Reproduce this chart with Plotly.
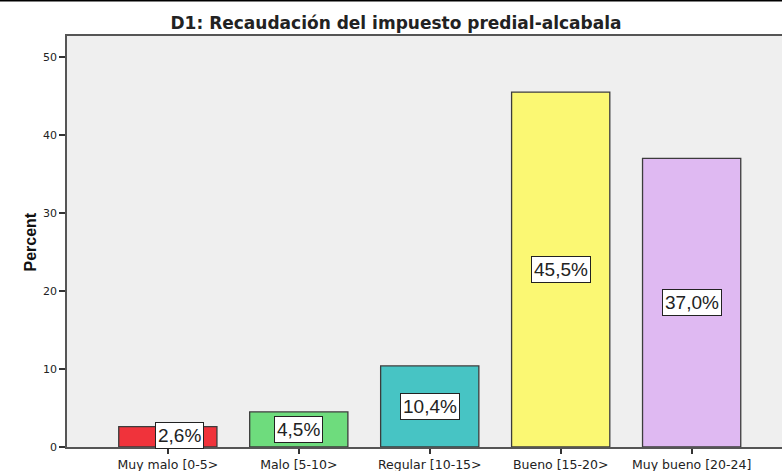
import plotly.graph_objects as go

categories = ["Muy malo [0-5>", "Malo [5-10>", "Regular [10-15>", "Bueno [15-20>", "Muy bueno [20-24]"]
percents = [2.6, 4.5, 10.4, 45.5, 37.0]
labels = ["2,6%", "4,5%", "10,4%", "45,5%", "37,0%"]
colors = ["#f0333b", "#6edc7d", "#47c4c4", "#fbf873", "#dfb9f2"]
y_ticks = [0, 10, 20, 30, 40, 50]

FONT = "DejaVu Sans, Verdana, sans-serif"

fig = go.Figure()
fig.add_trace(go.Bar(
    x=list(range(len(categories))), y=percents,
    marker=dict(color=colors, line=dict(color="#3c3c3c", width=1.3)),
    width=0.75, showlegend=False, hoverinfo="skip",
))
for i, (v, lab) in enumerate(zip(percents, labels)):
    fig.add_annotation(x=i, y=v / 2, text=lab, showarrow=False,
                       xshift=12 if i == 0 else 0, yshift=1 if i == 0 else 0,
                       font=dict(family="Liberation Sans, Arial", size=19, color="#222"),
                       bgcolor="white", bordercolor="#222", borderwidth=1, borderpad=2)

# y-axis title
fig.add_annotation(xref="paper", yref="paper", x=(19 - 67) / 715, y=(447 - 242) / 411,
                   text="<b>Percent</b>", textangle=-90, showarrow=False,
                   font=dict(family="Liberation Sans Narrow, Arial Narrow, Liberation Sans", size=16, color="#111"))

# top black rule
fig.add_shape(type="line", xref="paper", yref="paper", x0=-0.2, x1=1.1,
              y0=(447 - 0.5) / 411, y1=(447 - 0.5) / 411,
              line=dict(color="black", width=2))

fig.update_layout(
    width=782, height=471,
    margin=dict(l=67, r=0, t=36, b=24, autoexpand=False),
    paper_bgcolor="white", plot_bgcolor="#efefef",
    title=dict(text="<b>D1: Recaudación del impuesto predial-alcabala</b>",
               xref="paper", x=(396 - 67) / 715, xanchor="center",
               yref="container", y=(471 - 23) / 471, yanchor="middle",
               font=dict(family=FONT, size=17, color="#222")),
    xaxis=dict(range=[-0.77, 4.69], tickmode="array", tickvals=list(range(len(categories))),
               ticktext=categories, ticks="outside", ticklen=5, tickcolor="#333", tickwidth=1.5,
               showgrid=False, zeroline=False, showline=True, linecolor="#555", linewidth=1.5,
               mirror=True, automargin=False,
               tickfont=dict(family=FONT, size=12.5, color="#222")),
    yaxis=dict(range=[0, 52.7], tickvals=y_ticks, ticks="outside", ticklen=6, tickcolor="#333",
               tickwidth=1.5,
               showgrid=False, zeroline=False, showline=True, linecolor="#555", linewidth=1.5,
               mirror=True, automargin=False,
               tickfont=dict(family=FONT, size=11, color="#222")),
)
fig.write_html("out.html", config={"displayModeBar": False},
               post_script="document.body.style.margin='0';document.body.style.overflow='hidden';")
